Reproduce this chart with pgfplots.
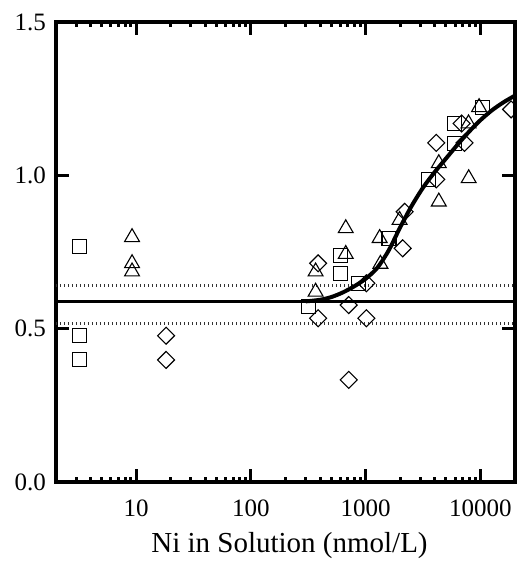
\documentclass[border=0pt]{standalone}
\usepackage{fontspec}
\setmainfont{Liberation Serif}
\usepackage{pgfplots}
\pgfplotsset{compat=1.18}
\begin{document}
\begin{tikzpicture}
\useasboundingbox (-56pt,-81pt) rectangle (462pt,482pt);
\begin{axis}[
  at={(0pt,0pt)}, anchor=south west,
  scale only axis, width=459pt, height=460pt,
  xmode=log, xmin=2, xmax=20000, ymin=0, ymax=1.5,
  xtick={10,100,1000,10000}, xticklabels={10,100,1000,10000},
  minor xtick={3,4,5,6,7,8,9,20,30,40,50,60,70,80,90,200,300,400,500,600,700,800,900,2000,3000,4000,5000,6000,7000,8000,9000},
  ytick={0,0.5,1,1.5}, yticklabels={0.0,0.5,1.0,1.5},
  tick align=inside, major tick length=13pt, minor tick length=5pt,
  axis line style={line width=3.2pt},
  tick style={line width=3pt, black},
  /pgf/number format/assume math mode=true,
  xticklabel style={font=\fontsize{25}{25}\selectfont, anchor=base, yshift=-34pt},
  yticklabel style={font=\fontsize{25}{25}\selectfont, inner sep=0pt, xshift=-10pt},
  xlabel={Ni in Solution (nmol/L)},
  xlabel style={font=\fontsize{29}{29}\selectfont, at={(axis description cs:0.5,0)}, anchor=base, yshift=-70pt, xshift=4pt},
  clip marker paths=true,
]
% baseline and confidence band
\addplot[black, line width=3.2pt] coordinates {(2,0.588) (20000,0.588)};
\addplot[black!80, line width=2.6pt, dash pattern=on 1.3pt off 2.7pt] coordinates {(2,0.640) (20000,0.640)};
\addplot[black!80, line width=2.6pt, dash pattern=on 1.3pt off 2.7pt] coordinates {(2,0.517) (20000,0.517)};
% fitted curve
\addplot[black, line width=4pt, smooth] coordinates {
(300,0.589) (398,0.594) (501,0.603) (631,0.618) (794,0.638) (1000,0.663)
(1259,0.698) (1585,0.755) (1995,0.830) (2512,0.900) (3162,0.960) (3981,1.010)
(5012,1.055) (6310,1.100) (7943,1.142) (10000,1.180) (12589,1.212) (15849,1.238) (20000,1.260)};
% squares
\addplot[only marks, mark=square, mark size=7pt, mark options={black, line width=1.1pt, fill=none}] coordinates {
(3.2,0.767) (3.2,0.477) (3.2,0.398)
(319,0.572) (606,0.740) (606,0.680) (869,0.648) (1595,0.795) (3556,0.987)
(5940,1.169) (5940,1.104) (10400,1.222)};
% triangles
\addplot[only marks, mark=triangle, mark size=8.6pt, mark options={black, line width=1.1pt, fill=none}] coordinates {
(9.2,0.798) (9.2,0.713) (9.2,0.686)
(366,0.686) (366,0.620) (670,0.827) (670,0.743) (1323,0.795) (1343,0.711)
(1974,0.854) (4335,1.039) (4335,0.914) (7870,1.169) (7900,0.990) (9730,1.222)};
% diamonds
\addplot[only marks, mark=square, mark size=6pt, mark options={rotate=45, black, line width=1.1pt, fill=none}] coordinates {
(18.2,0.477) (18.2,0.398)
(385,0.713) (385,0.534) (711,0.577) (711,0.333) (1014,0.534) (1014,0.648)
(2100,0.762) (2184,0.881) (4120,0.987) (4120,1.106) (6860,1.169) (7260,1.106) (18500,1.215)};
\end{axis}
\end{tikzpicture}
\end{document}
